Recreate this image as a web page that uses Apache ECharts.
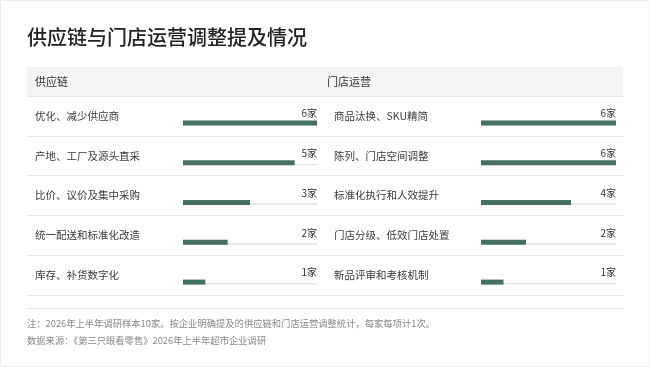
<!DOCTYPE html>
<html>
<head>
<meta charset="utf-8">
<script src="https://cdn.jsdelivr.net/npm/echarts@6/dist/echarts.min.js"></script>
<style>
  html, body { margin: 0; padding: 0; background: #fff; }
  #chart { width: 650px; height: 367px; }
</style>
</head>
<body>
<div id="chart"></div>
<script>
// 供应链 / 门店运营 两列数据
const supplyItems = ['优化、减少供应商', '产地、工厂及源头直采', '比价、议价及集中采购', '统一配送和标准化改造', '库存、补货数字化'];
const supplyCounts = [6, 5, 3, 2, 1];
const storeItems = ['商品汰换、SKU精简', '陈列、门店空间调整', '标准化执行和人效提升', '门店分级、低效门店处置', '新品评审和考核机制'];
const storeCounts = [6, 6, 4, 2, 1];
const maxCount = 6;

const FONT = '"Noto Sans CJK SC", "Noto Sans", sans-serif';
const barColor = '#45705f';
const lineColor = '#e3e8e6';

const chart = echarts.init(document.getElementById('chart'));

const trackColor = new echarts.graphic.LinearGradient(0, 0, 0, 1, [
  { offset: 0, color: 'rgba(0,0,0,0)' },
  { offset: 0.7, color: 'rgba(0,0,0,0)' },
  { offset: 0.7, color: lineColor },
  { offset: 1, color: lineColor }
]);

function layoutAxis(grid, items, margin) {
  return {
    type: 'category', gridIndex: grid, inverse: true, data: items,
    axisLine: { show: false }, axisTick: { show: false },
    axisLabel: { inside: true, margin: margin, color: '#3a3a3a', fontSize: 10.5, fontFamily: FONT },
    splitLine: { show: true, lineStyle: { color: lineColor, width: 1 } }
  };
}
function dataAxis(grid, items) {
  return { type: 'category', gridIndex: grid, inverse: true, data: items, show: false };
}
function valueAxis(grid, max) {
  return { type: 'value', gridIndex: grid, min: 0, max: max, show: false };
}
function barPair(grid, counts) {
  return [{
    type: 'bar', xAxisIndex: grid, yAxisIndex: grid, barWidth: 5, barGap: '-100%',
    data: counts.map(() => maxCount),
    itemStyle: { color: trackColor },
    silent: true,
    label: {
      show: true, position: ['100%', -2], align: 'right', verticalAlign: 'bottom',
      formatter: p => counts[p.dataIndex] + '家',
      color: '#333', fontSize: 10, fontFamily: FONT
    }
  }, {
    type: 'bar', xAxisIndex: grid, yAxisIndex: grid, barWidth: 5, barGap: '-100%', z: 3,
    data: counts, itemStyle: { color: barColor }
  }];
}

const option = {
  backgroundColor: '#fff',
  animation: false,
  title: {
    text: '供应链与门店运营调整提及情况', left: 27, top: 27, padding: 0,
    textStyle: { fontSize: 20, fontWeight: 500, color: '#222', fontFamily: FONT }
  },
  grid: [
    { left: 27, width: 298, top: 96, height: 199 },
    { left: 325, right: 27, top: 96, height: 199 },
    { left: 183, right: 333, top: 103, height: 199 },
    { left: 481, right: 34, top: 103, height: 199 }
  ],
  xAxis: [valueAxis(0, 1), valueAxis(1, 1), valueAxis(2, maxCount), valueAxis(3, maxCount)],
  yAxis: [
    layoutAxis(0, supplyItems, 8),
    layoutAxis(1, storeItems, 9),
    dataAxis(2, supplyItems),
    dataAxis(3, storeItems)
  ],
  series: [...barPair(2, supplyCounts), ...barPair(3, storeCounts)],
  graphic: [
    { type: 'rect', z: -10, shape: { x: 0.5, y: 0.5, width: 649, height: 366 }, style: { fill: '#fff', stroke: '#eceeed' } },
    { type: 'rect', z: -5, shape: { x: 27, y: 67, width: 596, height: 29 }, style: { fill: '#f3f5f4' } },
    { type: 'text', x: 35, y: 82, style: { text: '供应链', fill: '#333', font: '11px ' + FONT, verticalAlign: 'middle' } },
    { type: 'text', x: 327, y: 82, style: { text: '门店运营', fill: '#333', font: '11px ' + FONT, verticalAlign: 'middle' } },
    { type: 'line', shape: { x1: 27, y1: 308.5, x2: 623, y2: 308.5 }, style: { stroke: lineColor, lineWidth: 1 } },
    { type: 'text', x: 27, y: 323, style: { text: '注：2026年上半年调研样本10家。按企业明确提及的供应链和门店运营调整统计，每家每项计1次。', fill: '#888', font: '9.3px ' + FONT, verticalAlign: 'middle' } },
    { type: 'text', x: 27, y: 340, style: { text: '数据来源：《第三只眼看零售》2026年上半年超市企业调研', fill: '#888', font: '9.3px ' + FONT, verticalAlign: 'middle' } }
  ]
};
chart.setOption(option);
</script>
</body>
</html>
